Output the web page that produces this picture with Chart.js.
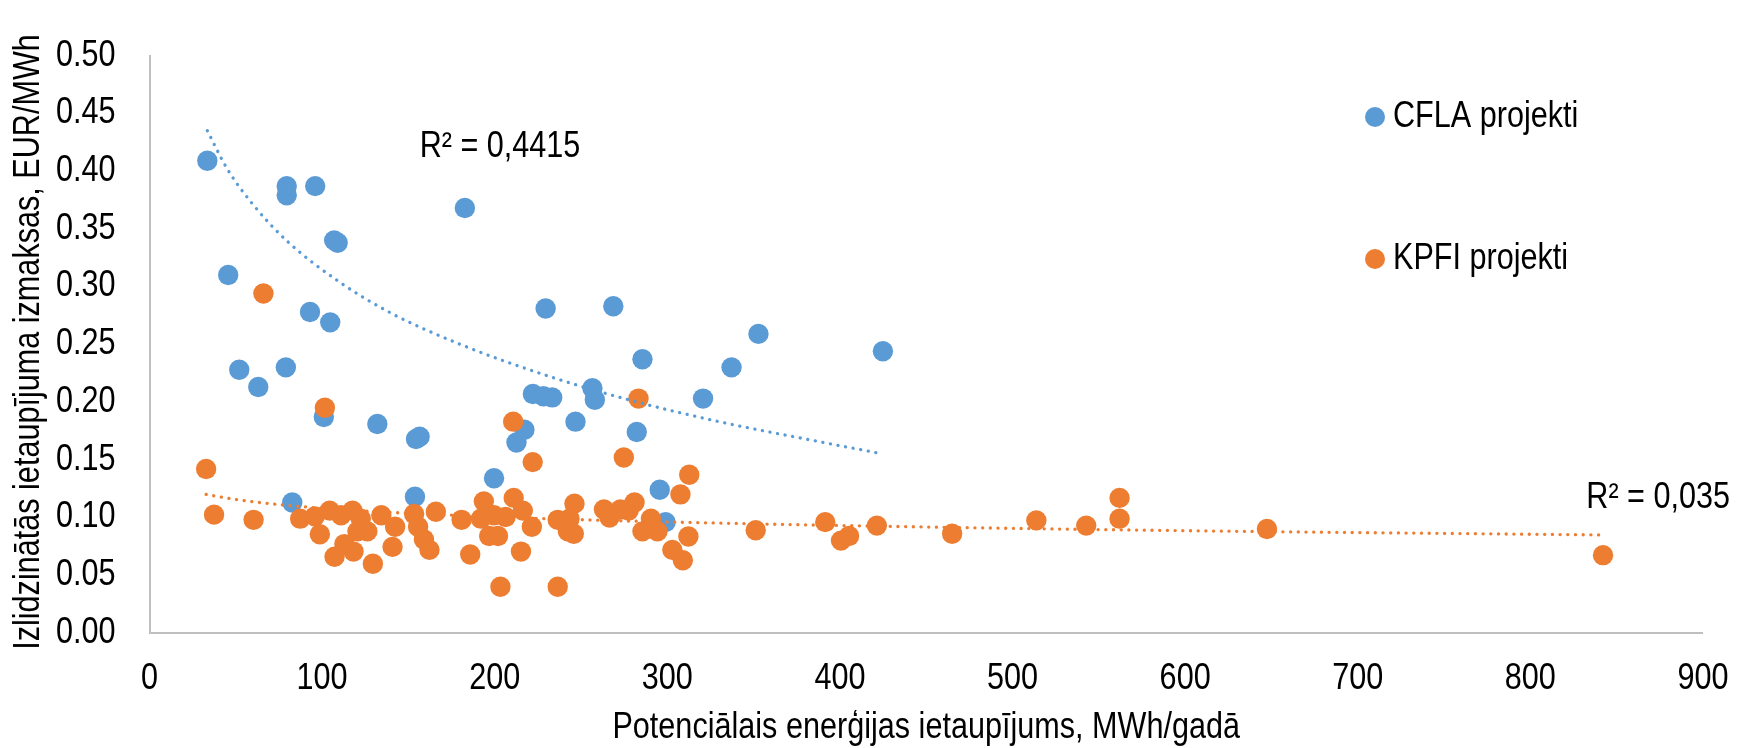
<!DOCTYPE html>
<html>
<head>
<meta charset="utf-8">
<script src="https://cdn.jsdelivr.net/npm/chart.js@4.4.0/dist/chart.umd.min.js"></script>
<style>
  html, body { margin: 0; padding: 0; background: #fff; }
  #wrap { width: 1757px; height: 748px; }
</style>
</head>
<body>
<div id="wrap"><canvas id="chart" width="1757" height="748"></canvas></div>
<script>
// CFLA projekti (blue)
const cflaX = [33.5, 45.6, 52, 63, 79.5, 79.5, 79, 82.7, 93, 96, 101, 104.7, 107, 109,
  132, 154.4, 156.5, 153.8, 182.7, 199.6, 212.6, 217.2, 222.1, 228.2, 233.3, 229.5,
  246.8, 256.6, 258, 268.7, 282.3, 285.6, 295.6, 299, 320.7, 337.2, 352.8, 424.9];
const cflaY = [0.409, 0.310, 0.228, 0.213, 0.387, 0.379, 0.230, 0.113, 0.278, 0.387, 0.187, 0.269, 0.340, 0.338,
  0.181, 0.168, 0.170, 0.118, 0.368, 0.134, 0.165, 0.176, 0.207, 0.205, 0.204, 0.281,
  0.183, 0.212, 0.202, 0.283, 0.174, 0.237, 0.124, 0.096, 0.203, 0.230, 0.259, 0.244];

// KPFI projekti (orange)
const kpfiX = [32.8, 37.4, 60.3, 66, 87.3, 95.8, 98.7, 101.6, 104.4, 107.2, 111, 112.9, 117.6, 118.2,
  120.5, 122.4, 126.2, 129.4, 134.3, 140.8, 142.3, 153.3, 155.6, 159, 162.2, 165.9, 180.8, 185.8,
  193.7, 192, 196.8, 201.9, 199.6, 206.3, 203.3, 210.7, 211, 216.3, 215.2, 221.5, 222, 236.5,
  236.5, 246.2, 243.3, 242.4, 245.8, 263.3, 266.5, 272.8, 274.8, 277.6, 281, 283.3, 285.6, 290.5,
  294.3, 302.9, 307.6, 309, 312.2, 312.7, 351.2, 391.5, 400.6, 405.3, 421.4, 465, 513.8, 542.7,
  562, 562, 647.4, 842.1];
const kpfiY = [0.142, 0.1025, 0.098, 0.294, 0.099, 0.101, 0.0855, 0.195, 0.106, 0.066, 0.102, 0.077, 0.106, 0.0705,
  0.088, 0.099, 0.088, 0.060, 0.102, 0.0746, 0.092, 0.103, 0.092, 0.081, 0.072, 0.105, 0.098, 0.068,
  0.114, 0.099, 0.084, 0.084, 0.102, 0.1005, 0.040, 0.183, 0.117, 0.106, 0.0705, 0.092, 0.148, 0.098,
  0.040, 0.112, 0.099, 0.088, 0.086, 0.107, 0.100, 0.107, 0.152, 0.106, 0.113, 0.203, 0.088, 0.099,
  0.088, 0.072, 0.120, 0.063, 0.0836, 0.137, 0.089, 0.096, 0.080, 0.084, 0.093, 0.086, 0.0975, 0.093,
  0.117, 0.099, 0.090, 0.0674];

// trend lines
const cflaTrendX = [33.5, 45, 60, 80, 110, 140, 180, 230, 280, 330, 380, 425];
const cflaTrendY = [0.435, 0.402, 0.371, 0.339, 0.304, 0.277, 0.250, 0.223, 0.201, 0.183, 0.168, 0.155];
const kpfiTrendX = [32.8, 50, 75, 110, 160, 230, 320, 450, 600, 842];
const kpfiTrendY = [0.120, 0.1156, 0.1112, 0.107, 0.103, 0.099, 0.0955, 0.0918, 0.0886, 0.0849];

const r2Texts = ['R\u00B2 = 0,4415', 'R\u00B2 = 0,035'];
const r2X = [156.5, 832.4];
const r2Y = [0.4212, 0.1167];

const seriesNames = ['CFLA projekti', 'KPFI projekti'];
const yTitle = 'Izlidzinātās ietaupījuma izmaksas, EUR/MWh';
const xTitle = 'Potenciālais enerģijas ietaupījums, MWh/gadā';
const BLUE = '#5B9BD5';
const ORANGE = '#ED7D31';
const FONT = '"Liberation Sans Narrow", "Arial Narrow", "Liberation Sans", Arial, sans-serif';
const NARROW = 0.85; // squeeze text to look like Arial Narrow

function toPoints(xs, ys) {
  return xs.map((x, i) => ({ x: x, y: ys[i] }));
}

const canvas = document.getElementById('chart');
const ctx = canvas.getContext('2d');

// all text on this canvas gets drawn condensed
const rawFillText = ctx.fillText.bind(ctx);
ctx.fillText = function (text, x, y, maxWidth) {
  this.save();
  this.translate(x, y);
  this.scale(NARROW, 1);
  if (maxWidth !== undefined) rawFillText(text, 0, 0, maxWidth / NARROW);
  else rawFillText(text, 0, 0);
  this.restore();
};

// legend on the right, inside the plot
const sideLegend = {
  id: 'sideLegend',
  afterDraw(chart) {
    const c = chart.ctx;
    const items = [[seriesNames[0], BLUE, 117], [seriesNames[1], ORANGE, 259]];
    c.save();
    c.font = '36px ' + FONT;
    c.textBaseline = 'middle';
    c.textAlign = 'left';
    items.forEach(it => {
      c.fillStyle = it[1];
      c.beginPath();
      c.arc(1375, it[2], 10, 0, Math.PI * 2);
      c.fill();
      c.fillStyle = '#000';
      c.fillText(it[0], 1393, it[2]);
    });
    c.restore();
  }
};

// R² labels in data units, plus the y axis title
const textPlugin = {
  id: 'extraText',
  afterDraw(chart) {
    const c = chart.ctx;
    const sx = chart.scales.x, sy = chart.scales.y;
    c.save();
    c.font = '36px ' + FONT;
    c.fillStyle = '#000';
    c.textBaseline = 'middle';
    c.textAlign = 'left';
    r2Texts.forEach((t, i) => {
      c.fillText(t, sx.getPixelForValue(r2X[i]), sy.getPixelForValue(r2Y[i]));
    });
    c.translate(29.5, 342);
    c.rotate(-Math.PI / 2);
    c.textAlign = 'center';
    c.fillText(yTitle, 0, 0);
    c.restore();
  }
};

new Chart(ctx, {
  type: 'scatter',
  data: {
    datasets: [
      {
        label: seriesNames[0],
        data: toPoints(cflaX, cflaY),
        backgroundColor: BLUE,
        borderColor: BLUE,
        borderWidth: 0,
        pointRadius: 10.2,
        order: 3,
        clip: false
      },
      {
        label: seriesNames[1],
        data: toPoints(kpfiX, kpfiY),
        backgroundColor: ORANGE,
        borderColor: ORANGE,
        borderWidth: 0,
        pointRadius: 10.2,
        order: 2,
        clip: false
      },
      {
        label: 'cflaTrend',
        data: toPoints(cflaTrendX, cflaTrendY),
        showLine: true,
        pointRadius: 0,
        borderColor: BLUE,
        borderWidth: 3.3,
        borderDash: [0.1, 7.6],
        borderCapStyle: 'round',
        cubicInterpolationMode: 'monotone',
        order: 1
      },
      {
        label: 'kpfiTrend',
        data: toPoints(kpfiTrendX, kpfiTrendY),
        showLine: true,
        pointRadius: 0,
        borderColor: ORANGE,
        borderWidth: 3.3,
        borderDash: [0.1, 7.6],
        borderCapStyle: 'round',
        cubicInterpolationMode: 'monotone',
        order: 1
      }
    ]
  },
  options: {
    responsive: false,
    animation: false,
    devicePixelRatio: 1,
    layout: { padding: { top: 27, right: 29, left: 0, bottom: 0 } },
    plugins: {
      legend: { display: false },
      tooltip: { enabled: false }
    },
    scales: {
      x: {
        type: 'linear',
        min: 0,
        max: 900,
        grid: { display: false, drawTicks: false },
        border: { display: true, color: '#BFBFBF', width: 2 },
        ticks: {
          stepSize: 100,
          padding: 24,
          maxRotation: 0,
          color: '#000',
          font: { family: FONT, size: 36 }
        },
        title: {
          display: true,
          text: xTitle,
          color: '#000',
          padding: 0,
          font: { family: FONT, size: 36, lineHeight: 1.1 }
        },
        afterFit(scale) { scale.height = 115; }
      },
      y: {
        min: 0,
        max: 0.5,
        grid: { display: false, drawTicks: false },
        border: { display: true, color: '#BFBFBF', width: 2 },
        ticks: {
          stepSize: 0.05,
          padding: 34,
          color: '#000',
          font: { family: FONT, size: 36 },
          callback: v => v.toFixed(2)
        },
        title: { display: false },
        afterFit(scale) { scale.width = 149.5; }
      }
    }
  },
  plugins: [sideLegend, textPlugin]
});
</script>
</body>
</html>
